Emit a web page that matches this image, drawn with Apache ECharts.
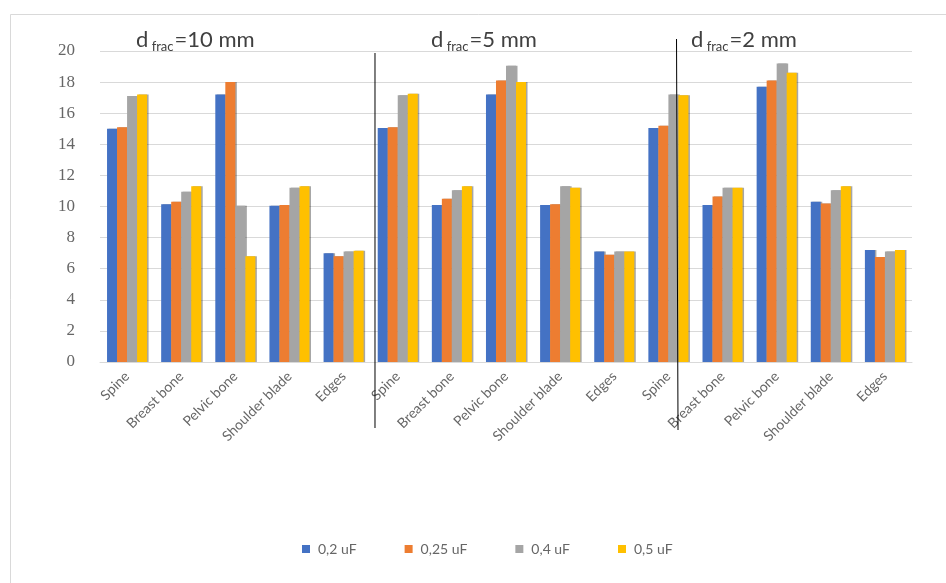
<!DOCTYPE html>
<html>
<head>
<meta charset="utf-8">
<script src="https://cdn.jsdelivr.net/npm/echarts@6/dist/echarts.min.js"></script>
<style>html,body{margin:0;padding:0;background:#fff;}#c{width:946px;height:583px;}</style>
</head>
<body>
<div id="c"></div>
<script>
var categories = ['Spine','Breast bone','Pelvic bone','Shoulder blade','Edges',
                  'Spine','Breast bone','Pelvic bone','Shoulder blade','Edges',
                  'Spine','Breast bone','Pelvic bone','Shoulder blade','Edges'];
var seriesNames = ['0,2 uF','0,25 uF','0,4 uF','0,5 uF'];
var s02  = [15.0, 10.15, 17.2, 10.05, 7.0,   15.05, 10.1, 17.2, 10.1, 7.1,   15.05, 10.1, 17.7, 10.3, 7.2];
var s025 = [15.1, 10.3, 18.0, 10.1, 6.8,     15.1, 10.5, 18.1, 10.15, 6.9,   15.2, 10.65, 18.1, 10.2, 6.75];
var s04  = [17.1, 10.95, 10.05, 11.2, 7.1,   17.15, 11.05, 19.05, 11.3, 7.1, 17.2, 11.2, 19.2, 11.05, 7.1];
var s05  = [17.2, 11.3, 6.8, 11.3, 7.15,     17.25, 11.3, 18.0, 11.2, 7.1,   17.15, 11.2, 18.6, 11.3, 7.2];
var yTicks = [0, 2, 4, 6, 8, 10, 12, 14, 16, 18, 20];
var groupLabels = ['10', '5', '2'];

var colors = ['#4472C4', '#ED7D31', '#A5A5A5', '#FFC000'];
var allSeries = [s02, s025, s04, s05];

var chart = echarts.init(document.getElementById('c'), null, {renderer: 'canvas'});

function makeSeries() {
  return allSeries.map(function (d, i) {
    return {
      name: seriesNames[i],
      type: 'bar',
      data: d,
      barGap: '0%',
      barCategoryGap: '26%',
      itemStyle: {
        color: colors[i],
        shadowColor: 'rgba(0,0,0,0.35)',
        shadowOffsetX: 1.5,
        shadowOffsetY: 0,
        shadowBlur: 0
      }
    };
  });
}

var option = {
  backgroundColor: '#ffffff',
  animation: false,
  color: colors,
  grid: {left: 100, right: 34, top: 51, bottom: 221, containLabel: false},
  legend: {
    data: seriesNames,
    bottom: 22,
    left: 297,
    itemWidth: 8,
    itemHeight: 8,
    itemGap: 48,
    icon: 'rect',
    textStyle: {color: '#666666', fontSize: 14, fontFamily: 'Lato', padding: [0, 0, 0, 3]}
  },
  xAxis: {
    type: 'category',
    data: categories,
    axisLine: {show: true, lineStyle: {color: '#d9d9d9'}},
    axisTick: {show: false},
    axisLabel: {
      rotate: 45,
      interval: 0,
      margin: 12,
      color: '#666666',
      fontSize: 14,
      fontFamily: 'Lato'
    }
  },
  yAxis: {
    type: 'value',
    min: yTicks[0],
    max: yTicks[yTicks.length - 1],
    interval: 2,
    axisLine: {show: false},
    axisTick: {show: false},
    splitLine: {lineStyle: {color: '#d9d9d9', width: 1}},
    axisLabel: {
      color: '#666666',
      fontSize: 17,
      fontFamily: 'Liberation Serif',
      margin: 25
    }
  },
  series: makeSeries()
};

chart.setOption(option);

function annot(x, y, val) {
  return {
    type: 'text',
    left: x,
    top: y,
    z: 100,
    style: {
      text: '{a|d}{s| frac}{a|=' + val + ' mm}',
      rich: {
        a: {fontSize: 22, fontFamily: 'Lato', fill: '#404040', color: '#404040', lineHeight: 26},
        s: {fontSize: 13, fontFamily: 'Lato', fill: '#404040', color: '#404040', lineHeight: 26, padding: [14, 1, 0, 0]}
      }
    }
  };
}

var c4 = chart.convertToPixel({xAxisIndex: 0}, 4);
var c5 = chart.convertToPixel({xAxisIndex: 0}, 5);
var c10 = chart.convertToPixel({xAxisIndex: 0}, 10);
var c11 = chart.convertToPixel({xAxisIndex: 0}, 11);
var x1 = c4 + 0.58 * (c5 - c4);
var x2 = c10 + 0.15 * (c11 - c10);

chart.setOption({
  graphic: [
    {type: 'rect', shape: {x: 10.5, y: 14.5, width: 960, height: 600}, style: {fill: 'none', stroke: '#d9d9d9', lineWidth: 1}, z: 0, silent: true},
    {type: 'line', shape: {x1: x1, y1: 53, x2: x1, y2: 428}, style: {stroke: '#000', lineWidth: 1}, z: 100},
    {type: 'line', shape: {x1: x2, y1: 39, x2: x2 + 1.5, y2: 430}, style: {stroke: '#000', lineWidth: 1}, z: 100},
    annot(136, 26, groupLabels[0]),
    annot(431, 26, groupLabels[1]),
    annot(691, 26, groupLabels[2])
  ]
});
</script>
</body>
</html>
